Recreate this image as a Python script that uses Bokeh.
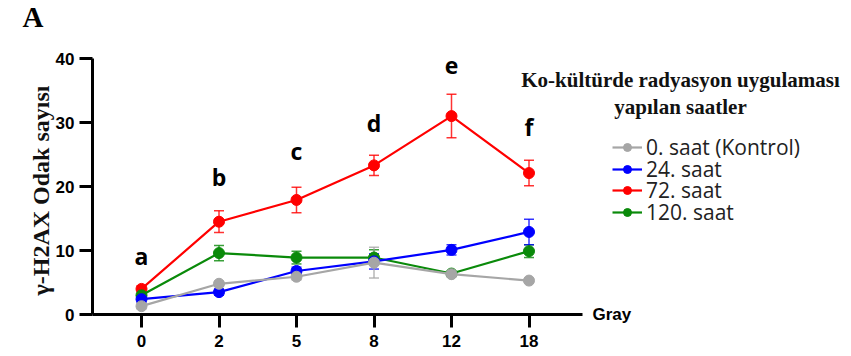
import math
from bokeh.plotting import figure
from bokeh.models import (ColumnDataSource, Whisker, TeeHead, Legend, LegendItem,
                          FixedTicker, Label, Range1d)
from bokeh.embed import file_html
from bokeh.resources import INLINE

# ---- data ----
doses = ["0", "2", "5", "8", "12", "18"]
series_names = ["0. saat (Kontrol)", "24. saat", "72. saat", "120. saat"]
saat0 = [1.3, 4.8, 5.9, 8.1, 6.3, 5.3]
saat0_err = [0.4, 0.4, 0.5, 2.4, 0.4, 0.3]
saat24 = [2.4, 3.5, 6.8, 8.3, 10.1, 12.9]
saat24_err = [0.5, 0.5, 0.6, 1.2, 0.8, 2.0]
saat72 = [4.0, 14.5, 17.9, 23.3, 31.0, 22.1]
saat72_err = [0.5, 1.7, 2.0, 1.6, 3.4, 2.0]
saat120 = [3.0, 9.6, 8.9, 8.9, 6.4, 9.9]
saat120_err = [0.3, 1.2, 1.0, 1.2, 0.3, 1.0]
sig_letters = ["a", "b", "c", "d", "e", "f"]
sig_letter_y = [9.1, 21.5, 25.6, 30.0, 38.9, 29.3]
y_ticks = [0, 10, 20, 30, 40]

colors = ["#a6a6a6", "#0000ff", "#ff0000", "#0a8a0a"]
values = [saat0, saat24, saat72, saat120]
errors = [saat0_err, saat24_err, saat72_err, saat120_err]

xs = list(range(len(doses)))

W, H = 851, 356
PX_X = 77.5          # px per category step
PX_Y = 6.4           # px per y unit
AX_LEFT = 92         # canvas x of y axis
AX_BOTTOM = 314      # canvas y of x axis
x_axis_pos = -49 / PX_X                      # data x of the y axis
x_start = x_axis_pos - AX_LEFT / PX_X
y_start = -(H - AX_BOTTOM) / PX_Y


def cx(px):
    return x_start + px / PX_X


def cy(py):
    return (AX_BOTTOM - py) / PX_Y


p = figure(width=W, height=H, min_border=0,
           min_border_left=0, min_border_right=0, min_border_top=0, min_border_bottom=0,
           x_range=Range1d(x_start, x_start + W / PX_X),
           y_range=Range1d(y_start, y_start + H / PX_Y),
           output_backend="svg", toolbar_location=None)
p.outline_line_color = None
p.xgrid.visible = False
p.ygrid.visible = False
p.background_fill_color = "white"
p.border_fill_color = "white"

for ax in (p.xaxis[0], p.yaxis[0]):
    ax.axis_line_width = 3
    ax.axis_line_color = "black"
    ax.major_tick_line_width = 3
    ax.major_tick_line_color = "black"
    ax.major_tick_in = 0
    ax.major_tick_out = 13
    ax.minor_tick_line_color = None
    ax.major_label_text_font = "Liberation Sans"
    ax.major_label_text_font_style = "bold"
    ax.major_label_text_font_size = "17px"
    ax.major_label_text_color = "black"

p.xaxis.fixed_location = 0
p.xaxis.bounds = (x_axis_pos, 5 + 53 / PX_X)
p.xaxis.ticker = FixedTicker(ticks=xs)
p.xaxis.major_label_overrides = {i: d for i, d in zip(xs, doses)}
p.xaxis.major_label_standoff = 7

p.yaxis.fixed_location = x_axis_pos
p.yaxis.bounds = (0, 40)
p.yaxis.ticker = FixedTicker(ticks=y_ticks)
p.yaxis.major_label_standoff = 5

items = {}
order = [2, 3, 1, 0]  # draw red first, gray on top
for i in order:
    c = colors[i]
    v = values[i]
    e = errors[i]
    src = ColumnDataSource(dict(x=xs, y=v,
                                upper=[a + b for a, b in zip(v, e)],
                                lower=[a - b for a, b in zip(v, e)]))
    w = Whisker(base="x", upper="upper", lower="lower", source=src,
                line_color=c, line_width=1.5, line_alpha=0.8,
                upper_head=TeeHead(size=10, line_color=c, line_width=1.5, line_alpha=0.8),
                lower_head=TeeHead(size=10, line_color=c, line_width=1.5, line_alpha=0.8))
    p.add_layout(w)
    lr = p.line("x", "y", source=src, line_color=c, line_width=2.2)
    sr = p.scatter("x", "y", source=src, size=11, marker="circle",
                   fill_color=c, line_color=c)
    items[i] = [lr, sr]

# legend: one entry per Legend so the row pitch matches the reference
legend_rows_px = [147, 168.5, 190, 211.5]
for i, row in enumerate(legend_rows_px):
    lg = Legend(items=[LegendItem(label=series_names[i], renderers=items[i])],
                location=(612, H - (row + 14)), orientation="vertical",
                label_text_font="Open Sans", label_text_font_size="21px",
                label_text_color="#222222",
                glyph_width=30, glyph_height=20, label_height=20,
                label_standoff=4, spacing=0, padding=0, margin=0,
                border_line_color=None, background_fill_alpha=0)
    p.add_layout(lg)

# significance letters
for xi, letter, ly in zip(xs, sig_letters, sig_letter_y):
    p.add_layout(Label(x=xi, y=ly, text=letter, text_align="center",
                       text_baseline="middle", text_font="Open Sans",
                       text_font_style="bold", text_font_size="23px",
                       text_color="black"))

# y axis title
p.add_layout(Label(x=cx(40), y=cy(190), text="γ-H2AX Odak sayısı", angle=math.pi / 2,
                   text_align="center", text_baseline="middle",
                   text_font="Liberation Serif", text_font_style="bold",
                   text_font_size="24px", text_color="#111111"))

# legend title
p.add_layout(Label(x=cx(680), y=cy(79), text="Ko-kültürde radyasyon uygulaması",
                   text_align="center", text_baseline="middle",
                   text_font="Liberation Serif", text_font_style="bold",
                   text_font_size="21px", text_color="#111111"))
p.add_layout(Label(x=cx(680), y=cy(106), text="yapılan saatler",
                   text_align="center", text_baseline="middle",
                   text_font="Liberation Serif", text_font_style="bold",
                   text_font_size="21px", text_color="#111111"))

# x axis unit label
p.add_layout(Label(x=cx(592), y=0, text="Gray",
                   text_align="left", text_baseline="middle",
                   text_font="Liberation Sans", text_font_style="bold",
                   text_font_size="17px", text_color="black"))

# panel letter
p.add_layout(Label(x=cx(22), y=cy(16), text="A",
                   text_align="left", text_baseline="middle",
                   text_font="Liberation Serif", text_font_style="bold",
                   text_font_size="29px", text_color="black"))

open("out.html", "w").write(file_html(p, INLINE))
